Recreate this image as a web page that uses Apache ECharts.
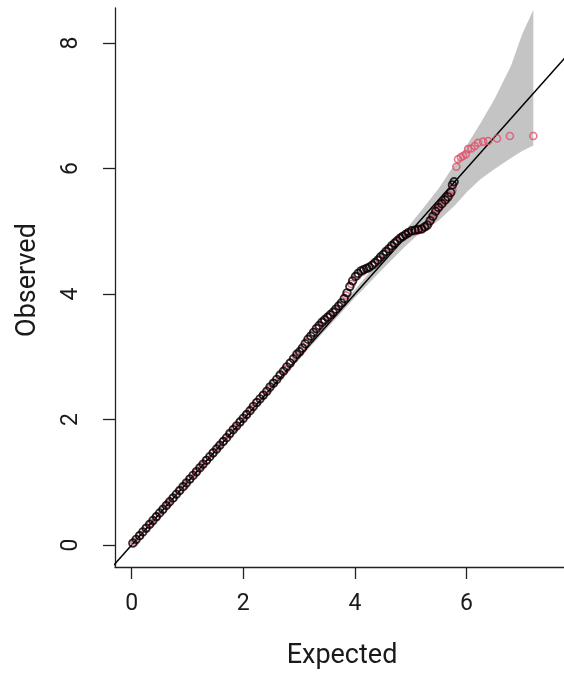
<!DOCTYPE html>
<html>
<head>
<meta charset="utf-8">
<script src="https://cdn.jsdelivr.net/npm/echarts@6/dist/echarts.min.js"></script>
<style>
  html, body { margin: 0; padding: 0; background: #fff; }
  #qq { width: 564px; height: 675px; }
</style>
</head>
<body>
<div id="qq"></div>
<script>
// tick labels
var xTicks = [0, 2, 4, 6];
var yTicks = [0, 2, 4, 6, 8];

// black group (expected vs observed)
var blackExpected = [0.02, 0.08, 0.14, 0.20, 0.26, 0.32, 0.38, 0.44, 0.50, 0.56, 0.62, 0.68, 0.74, 0.80, 0.86, 0.92, 0.98,
    1.04, 1.10, 1.16, 1.22, 1.28, 1.34, 1.40, 1.46, 1.52, 1.58, 1.64, 1.70, 1.76, 1.82, 1.88, 1.94,
    2.00, 2.06, 2.12, 2.18, 2.24, 2.30, 2.36, 2.42, 2.48, 2.54, 2.60, 2.66, 2.72, 2.78, 2.84, 2.90, 2.96,
    3.01, 3.06, 3.11, 3.16, 3.21, 3.26, 3.31, 3.36, 3.41, 3.46, 3.51, 3.56, 3.61, 3.66, 3.71, 3.76, 3.81, 3.86, 3.91, 3.96,
    4.01, 4.06, 4.11, 4.16, 4.21, 4.26, 4.31, 4.36, 4.41, 4.46, 4.51, 4.56, 4.61, 4.66, 4.71, 4.76, 4.81, 4.86, 4.91, 4.96,
    5.02, 5.08, 5.14, 5.20, 5.25, 5.30, 5.35, 5.40, 5.45, 5.50, 5.56, 5.62, 5.67, 5.72, 5.75, 5.78];
var blackObserved = [0.03, 0.09, 0.15, 0.21, 0.27, 0.33, 0.39, 0.45, 0.51, 0.57, 0.63, 0.69, 0.75, 0.81, 0.87, 0.93, 0.99,
    1.05, 1.11, 1.17, 1.23, 1.29, 1.35, 1.41, 1.47, 1.53, 1.59, 1.65, 1.71, 1.78, 1.84, 1.90, 1.96,
    2.02, 2.08, 2.14, 2.21, 2.27, 2.33, 2.39, 2.45, 2.52, 2.58, 2.64, 2.71, 2.77, 2.84, 2.90, 2.97, 3.04,
    3.08, 3.14, 3.21, 3.28, 3.33, 3.39, 3.45, 3.50, 3.55, 3.59, 3.63, 3.67, 3.71, 3.76, 3.81, 3.86, 3.93, 4.02, 4.12, 4.21,
    4.28, 4.33, 4.37, 4.39, 4.41, 4.43, 4.46, 4.50, 4.54, 4.59, 4.63, 4.68, 4.72, 4.77, 4.81, 4.85, 4.89, 4.92, 4.95, 4.98,
    5.01, 5.02, 5.03, 5.04, 5.07, 5.10, 5.17, 5.24, 5.32, 5.38, 5.44, 5.50, 5.55, 5.62, 5.74, 5.79];

// pink group
var pinkExpected = [0.05, 0.15, 0.25, 0.35, 0.45, 0.55, 0.65, 0.75, 0.85, 0.95, 1.05, 1.15, 1.25, 1.35, 1.45,
    1.55, 1.65, 1.75, 1.85, 1.95, 2.05, 2.15, 2.25, 2.35, 2.45, 2.55, 2.65, 2.75, 2.85, 2.95,
    3.04, 3.14, 3.24, 3.34, 3.44, 3.54, 3.64, 3.74, 3.84, 3.94, 4.04, 4.14, 4.24, 4.34, 4.44, 4.54, 4.64, 4.74, 4.84, 4.94,
    5.05, 5.12, 5.19, 5.27, 5.33, 5.38, 5.43, 5.48, 5.53, 5.59, 5.64, 5.70, 5.75,
    5.82, 5.85, 5.90, 5.94, 5.99, 6.03, 6.09, 6.15, 6.21, 6.30, 6.39, 6.55, 6.78, 7.20];
var pinkObserved = [0.05, 0.15, 0.26, 0.35, 0.46, 0.55, 0.66, 0.75, 0.86, 0.95, 1.06, 1.15, 1.26, 1.36, 1.46,
    1.56, 1.66, 1.76, 1.87, 1.97, 2.07, 2.17, 2.28, 2.38, 2.48, 2.58, 2.69, 2.80, 2.91, 3.01,
    3.11, 3.24, 3.36, 3.47, 3.56, 3.64, 3.73, 3.83, 3.98, 4.16, 4.29, 4.36, 4.41, 4.47, 4.56, 4.65, 4.74, 4.83, 4.90, 4.96,
    5.00, 5.01, 5.03, 5.07, 5.13, 5.20, 5.28, 5.35, 5.40, 5.46, 5.51, 5.58, 5.66,
    6.03, 6.15, 6.18, 6.20, 6.23, 6.31, 6.32, 6.36, 6.41, 6.43, 6.44, 6.48, 6.52, 6.52];

// confidence band
var bandExpected = [0, 2.0, 3.0, 3.5, 4.0, 4.5, 4.9, 5.2, 5.5, 5.8, 6.0, 6.25, 6.5, 6.8, 7.0, 7.2];
var bandUpper = [0.02, 2.02, 3.04, 3.55, 4.07, 4.6, 5.01, 5.34, 5.68, 6.08, 6.36, 6.72, 7.1, 7.64, 8.14, 8.53];
var bandLower = [0, 1.98, 2.96, 3.45, 3.94, 4.4, 4.76, 5.0, 5.17, 5.42, 5.62, 5.83, 5.99, 6.17, 6.28, 6.37];

// reference line y = x
var refLine = [-1, 9];

function pairs(xs, ys) {
    var out = [];
    for (var i = 0; i < xs.length; i++) out.push([xs[i], ys[i]]);
    return out;
}

var font = 'Roboto, "Noto Sans", sans-serif';
var myChart = echarts.init(document.getElementById('qq'));

var option = {
    animation: false,
    backgroundColor: '#fff',
    grid: { left: 115, right: 0, top: 8, bottom: 108 },
    xAxis: {
        type: 'value',
        min: -0.3,
        max: 7.75,
        name: 'Expected',
        nameLocation: 'middle',
        nameGap: 76,
        nameTextStyle: { fontFamily: font, fontSize: 27, color: '#1a1a1a', padding: [0, 0, 0, 5] },
        axisLine: { onZero: false, lineStyle: { color: '#222', width: 1.3 } },
        axisTick: { length: 12, customValues: xTicks, lineStyle: { color: '#222', width: 1.3 } },
        axisLabel: { customValues: xTicks, margin: 26, fontFamily: font, fontSize: 23, color: '#1a1a1a' },
        splitLine: { show: false }
    },
    yAxis: {
        type: 'value',
        min: -0.35,
        max: 8.56,
        name: 'Observed',
        nameLocation: 'middle',
        nameRotate: 90,
        nameGap: 73,
        nameTextStyle: { fontFamily: font, fontSize: 27, color: '#1a1a1a', padding: [0, 0, 0, 15] },
        axisLine: { onZero: false, lineStyle: { color: '#222', width: 1.3 } },
        axisTick: { length: 12, customValues: yTicks, lineStyle: { color: '#222', width: 1.3 } },
        axisLabel: { customValues: yTicks, rotate: 90, margin: 32, fontFamily: font, fontSize: 23, color: '#1a1a1a' },
        splitLine: { show: false }
    },
    series: [{
        type: 'custom',
        silent: true,
        data: [[0, 0]],
        renderItem: function (params, api) {
            var pts = [], i;
            for (i = 0; i < bandExpected.length; i++) pts.push(api.coord([bandExpected[i], bandUpper[i]]));
            for (i = bandExpected.length - 1; i >= 0; i--) pts.push(api.coord([bandExpected[i], bandLower[i]]));
            return { type: 'polygon', shape: { points: pts }, style: { fill: '#c4c4c4' } };
        },
        z: 1
    }, {
        type: 'line',
        data: pairs(refLine, refLine),
        showSymbol: false,
        clip: true,
        lineStyle: { color: '#000', width: 1.5 },
        z: 2
    }, {
        type: 'scatter',
        data: pairs(pinkExpected, pinkObserved),
        symbol: 'circle',
        symbolSize: 7,
        itemStyle: { color: 'rgba(0,0,0,0)', borderColor: '#DF536B', borderWidth: 1.6 },
        z: 3
    }, {
        type: 'scatter',
        data: pairs(blackExpected, blackObserved),
        symbol: 'circle',
        symbolSize: 7.5,
        itemStyle: { color: 'rgba(0,0,0,0)', borderColor: '#000', borderWidth: 1.9 },
        z: 4
    }]
};
myChart.setOption(option);
</script>
</body>
</html>
